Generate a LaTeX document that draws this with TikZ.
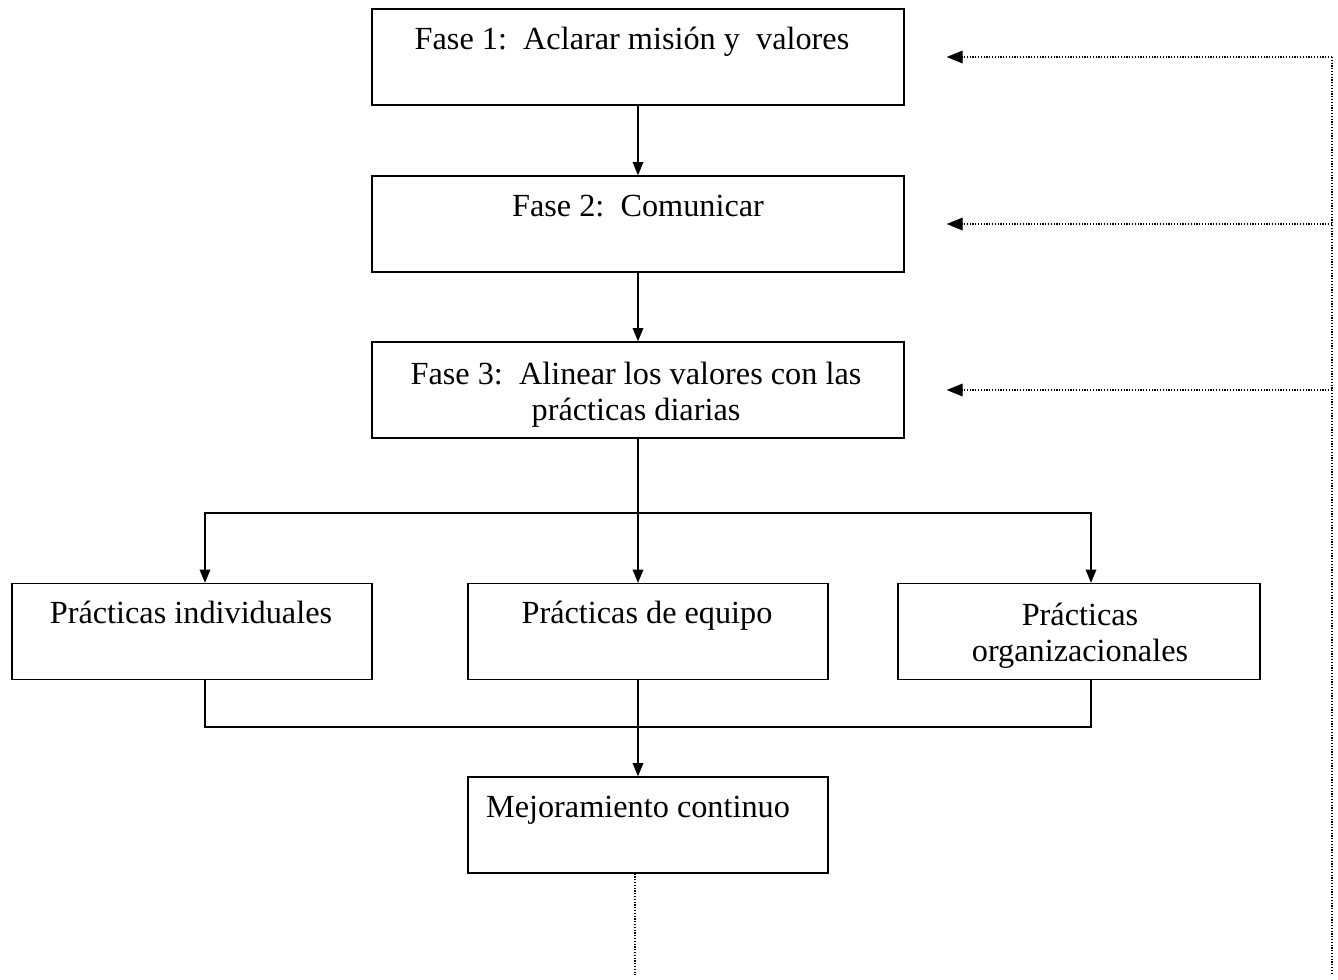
\documentclass[tikz,border=0pt]{standalone}
\usepackage{fontspec}
\setmainfont{Liberation Serif}
\usetikzlibrary{arrows.meta}
\begin{document}
\begin{tikzpicture}[x=0.75pt,y=-0.75pt,
  box/.style={draw, line width=1pt, rectangle, inner sep=0pt, minimum height=72pt},
  widebox/.style={box, minimum width=399pt},
  smallbox/.style={box, minimum width=270pt},
  txt/.style={inner sep=0pt, font=\fontsize{24.2pt}{27pt}\selectfont, align=center},
  conn/.style={line width=1pt},
  arr/.style={conn, -{Triangle[length=10pt,width=8pt]}},
  dots/.style={line width=0.9pt, dash pattern=on 0.9pt off 1.2pt},
  dotarr/.style={dots, -{Triangle[length=12pt,width=9.5pt]}}
]
\useasboundingbox (0,0) rectangle (1338,979);

% boxes
\node[widebox] (b1) at (638,57) {};
\node[widebox] (b2) at (638,224) {};
\node[widebox] (b3) at (638,390) {};
\node[smallbox] (b4) at (192,631.5) {};
\node[smallbox] (b5) at (648,631.5) {};
\node[smallbox, minimum width=271.5pt] (b6) at (1079,631.5) {};
\node[smallbox] (b7) at (648,825) {};

% texts
\node[txt, anchor=base] (t1) at (632,49) {Fase 1:\ \ Aclarar misión y\ \ valores};
\node[txt, anchor=base] (t2) at (638,216) {Fase 2:\ \ Comunicar};
\node[txt, anchor=north] (t3) at (636,362) {\rule{0pt}{15pt}Fase 3:\ \ Alinear los valores con las\\prácticas diarias};
\node[txt, anchor=base] (t4) at (191,623) {Prácticas individuales};
\node[txt, anchor=base] (t5) at (647,623) {Prácticas de equipo};
\node[txt, anchor=north] (t6) at (1080,603) {\rule{0pt}{15pt}Prácticas\\organizacionales};
\node[txt, anchor=base] (t7) at (638,817) {Mejoramiento continuo};

% helper coordinates
\coordinate (xa) at (205,0);
\coordinate (xb) at (638,0);
\coordinate (xc) at (1091,0);
\coordinate (xd) at (635,0);
\coordinate (j1) at (638,513);
\coordinate (m) at (638,727);
\coordinate (rt) at (1332,57);
\coordinate (rb) at (1332,975);
\coordinate (db) at (635,975);

% solid connectors
\draw[arr] (b1.south -| xb) -- (b2.north -| xb);
\draw[arr] (b2.south -| xb) -- (b3.north -| xb);
\draw[conn] (b3.south -| xb) -- (j1);
\draw[arr] (j1) -| (b4.north -| xa);
\draw[arr] (j1) -- (b5.north -| xb);
\draw[arr] (j1) -| (b6.north -| xc);
\draw[conn] (b4.south -| xa) |- (m) -| (b6.south -| xc);
\draw[arr] (b5.south -| xb) -- (b7.north -| xb);

% dotted feedback
\draw[dots] (b7.south -| xd) -- (db);
\draw[dots] (rt) -- (rb);
\draw[dotarr, shorten >=31.5pt] (rt) -- (b1.east);
\draw[dotarr, shorten >=31.5pt] (b2.east -| rt) -- (b2.east);
\draw[dotarr, shorten >=31.5pt] (b3.east -| rt) -- (b3.east);
\end{tikzpicture}
\end{document}
